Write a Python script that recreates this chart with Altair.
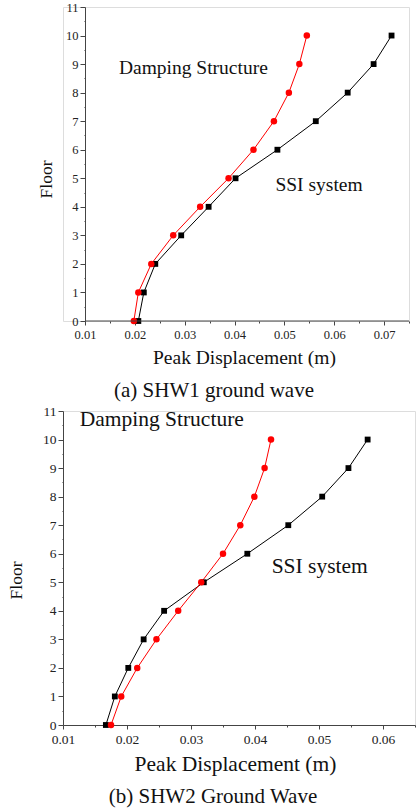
import altair as alt
import pandas as pd

floors = list(range(11))

# Panel (a) SHW1
a_damping = [0.0198, 0.0207, 0.0233, 0.0277, 0.0331, 0.0388, 0.0438, 0.0479, 0.0509, 0.0530, 0.0545]
a_ssi = [0.0207, 0.0218, 0.0241, 0.0293, 0.0348, 0.0402, 0.0486, 0.0563, 0.0627, 0.0679, 0.0715]

# Panel (b) SHW2
b_damping = [0.0175, 0.0191, 0.0216, 0.0246, 0.0280, 0.0316, 0.0350, 0.0377, 0.0399, 0.0415, 0.0425]
b_ssi = [0.0167, 0.0181, 0.0202, 0.0226, 0.0258, 0.0320, 0.0388, 0.0452, 0.0505, 0.0546, 0.0576]

series_names = ["Damping Structure", "SSI system"]
captions = ["(a) SHW1 ground wave", "(b) SHW2 Ground Wave"]
x_title = "Peak Displacement (m)"
y_title = "Floor"

# annotation anchors (data units)
a_label_x = [0.0168, 0.0482]
a_label_y = [8.67, 4.56]
b_label_x = [0.0126, 0.0426]
b_label_y = [10.49, 5.33]

y_vals = [i * 0.5 for i in range(23)]

FONT = "Liberation Serif"
AXC = "#444444"


def make_df(damp, ssi):
    rows = []
    for f, v in zip(floors, damp):
        rows.append({"floor": f, "disp": v, "series": series_names[0]})
    for f, v in zip(floors, ssi):
        rows.append({"floor": f, "disp": v, "series": series_names[1]})
    return pd.DataFrame(rows)


def panel(damp, ssi, lx, ly, caption, xmin, xmax, xdom0, width, lab_fs, txt_fs,
          yoffset, title_x, x_title_pad, y_title_pad, y_title_y, cap_dx, cap_off):
    df = make_df(damp, ssi)
    x_vals = [round(xmin + 0.005 * i, 3) for i in range(int(round((xmax - xmin) / 0.005)) + 1)]
    major_test = "abs(round(datum.value*100) - datum.value*100) < 1e-6"
    xaxis = alt.Axis(
        values=x_vals, labelExpr=f"{major_test} ? format(datum.value, '.2f') : ''",
        tickSize={"condition": {"test": major_test, "value": 4}, "value": 2},
        grid=False, domain=(yoffset == 0), domainColor=AXC, tickColor=AXC,
        labelFont=FONT, labelFontSize=lab_fs, labelColor="#222", labelPadding=3,
        labelOverlap=False, labelFlush=False,
        title=x_title, titleFont=FONT, titleFontSize=txt_fs, titleFontWeight="normal",
        titleColor="#111", titlePadding=x_title_pad, titleX=title_x,
    )
    yaxis = alt.Axis(
        values=y_vals, labelExpr="datum.value % 1 === 0 ? format(datum.value, 'd') : ''",
        tickSize={"condition": {"test": "datum.value % 1 === 0", "value": 5}, "value": 1},
        grid=False, domainColor=AXC, tickColor=AXC, offset=yoffset,
        labelFont=FONT, labelFontSize=lab_fs, labelColor="#222", labelPadding=2,
        labelOverlap=False, labelFlush=False,
        title=y_title, titleFont=FONT, titleFontSize=17.5, titleFontWeight="normal",
        titleColor="#111", titlePadding=y_title_pad, titleY=y_title_y,
    )
    xs = alt.Scale(domain=[xdom0, xmax], nice=False, zero=False)
    ys = alt.Scale(domain=[0, 11], nice=False, zero=False)

    def X(f):
        return alt.X(f, scale=xs, axis=xaxis)

    def Y(f):
        return alt.Y(f, scale=ys, axis=yaxis)

    base = alt.Chart(df)
    d = base.transform_filter(alt.datum.series == series_names[0])
    s = base.transform_filter(alt.datum.series == series_names[1])
    damp_line = d.mark_line(color="#ff0000", strokeWidth=1).encode(
        x=X("disp:Q"), y=Y("floor:Q"), order=alt.Order("floor:Q"))
    damp_pts = d.mark_point(shape="circle", filled=True, color="#ff0000", size=42, opacity=1).encode(
        x=X("disp:Q"), y=Y("floor:Q"))
    ssi_line = s.mark_line(color="#000000", strokeWidth=1).encode(
        x=X("disp:Q"), y=Y("floor:Q"), order=alt.Order("floor:Q"))
    ssi_pts = s.mark_point(shape="square", filled=True, color="#000000", size=34, opacity=1).encode(
        x=X("disp:Q"), y=Y("floor:Q"))
    lab_df = pd.DataFrame({"disp": lx, "floor": ly, "t": series_names})
    labels = alt.Chart(lab_df).mark_text(
        align="left", baseline="alphabetic", font=FONT, fontSize=txt_fs, color="#111").encode(
        x=X("disp:Q"), y=Y("floor:Q"), text="t:N")
    layers = [ssi_line, damp_line, ssi_pts, damp_pts, labels]
    if yoffset != 0:
        dom_df = pd.DataFrame({"disp": [xmin], "x1": [xmax], "floor": [0]})
        dom = alt.Chart(dom_df).mark_rule(color=AXC, strokeWidth=1).encode(
            x=X("disp:Q"), x2="x1:Q", y=Y("floor:Q"))
        layers = layers + [dom]
    return alt.layer(*layers).properties(
        width=width, height=314,
        title=alt.TitleParams(caption, orient="bottom", anchor="middle", font=FONT, fontSize=21,
                              fontWeight="normal", color="#111", dx=cap_dx, offset=cap_off),
    )


pa = panel(a_damping, a_ssi, a_label_x, a_label_y, captions[0], 0.01, 0.075, 0.005586, 346,
           12.5, 19.5, -22, 181, 8, 10, 172, -22, 13)
pb = panel(b_damping, b_ssi, b_label_x, b_label_y, captions[1], 0.01, 0.065, 0.01, 352,
           13.5, 21.5, 0, 172, 8, 17, 169, -26, 11)

chart = alt.vconcat(pa, pb, spacing=1).properties(
    padding={"left": 7, "top": 0, "right": 0, "bottom": 0}
).configure_view(stroke=None).configure(background="white")

chart.save("out.html", embed_options={"renderer": "svg", "actions": False})
